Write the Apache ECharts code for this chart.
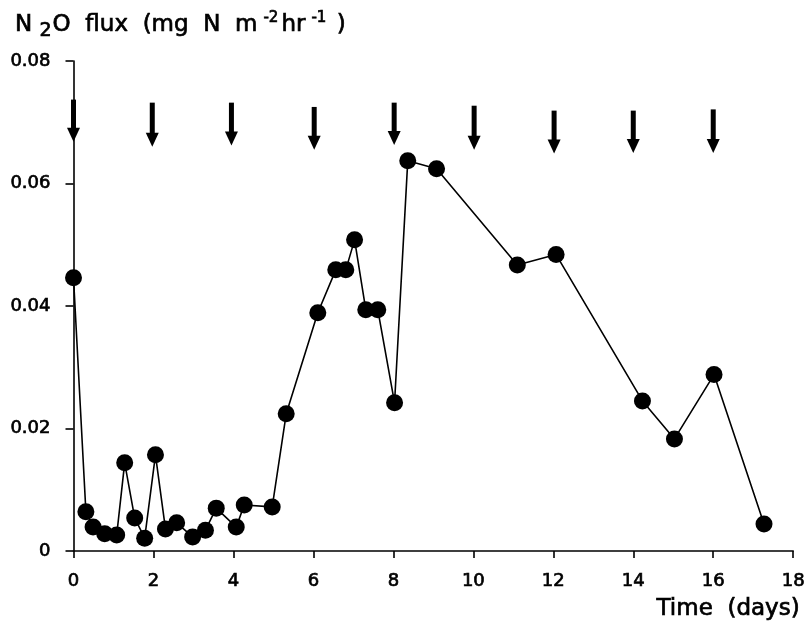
<!DOCTYPE html>
<html>
<head>
<meta charset="utf-8">
<script src="https://cdn.jsdelivr.net/npm/echarts@6/dist/echarts.min.js"></script>
<style>
  html, body { margin: 0; padding: 0; background: #fff; }
  #chart { width: 808px; height: 638px; }
</style>
</head>
<body>
<div id="chart"></div>
<script>
// Sampling time (days) and measured N2O flux (mg N m^-2 hr^-1)
var days = [0.0, 0.31, 0.49, 0.78, 1.08, 1.28, 1.53, 1.78, 2.05, 2.30, 2.58, 2.98, 3.30, 3.57,
            4.07, 4.27, 4.97, 5.32, 6.11, 6.56, 6.81, 7.03, 7.31, 7.61, 8.03, 8.36, 9.08,
            11.10, 12.07, 14.23, 15.03, 16.02, 17.27];
var flux = [0.0446, 0.0064, 0.0039, 0.0028, 0.0026, 0.0144, 0.0054, 0.0021, 0.0157, 0.0036, 0.0046,
            0.0023, 0.0034, 0.0070, 0.0039, 0.0075, 0.0072, 0.0224, 0.0389, 0.0459, 0.0459,
            0.0508, 0.0394, 0.0394, 0.0242, 0.0637, 0.0624, 0.0467, 0.0484, 0.0245, 0.0183,
            0.0288, 0.0044];

// Application events, shown as downward arrows (day, arrow top, arrow tip)
var eventDays = [0.0, 1.97, 3.95, 6.02, 8.02, 10.02, 12.02, 14.0, 16.0];
var eventTop  = [0.0737, 0.0732, 0.0732, 0.0725, 0.0732, 0.0727, 0.0719, 0.0719, 0.0721];
var eventTip  = [0.0668, 0.0660, 0.0662, 0.0655, 0.0663, 0.0655, 0.0649, 0.0650, 0.0650];

// Axis ticks
var xTicks = [0, 2, 4, 6, 8, 10, 12, 14, 16, 18];
var yTicks = [0, 0.02, 0.04, 0.06, 0.08];

var FONT = 'DejaVu Sans';
// a thin outline in the text colour gives the lettering a medium weight
var INK = { color: '#000', textBorderColor: '#000', textBorderWidth: 0.7 };

var points = days.map(function (d, i) { return [d, flux[i]]; });
var arrows = eventDays.map(function (d, i) { return [d, eventTop[i], eventTip[i]]; });

function txt(extra) { return Object.assign({ fontFamily: FONT, fontWeight: 'normal' }, INK, extra); }

var chart = echarts.init(document.getElementById('chart'), null, { renderer: 'canvas' });

chart.setOption({
  animation: false,
  backgroundColor: '#ffffff',
  title: {
    left: 10,
    top: 3,
    text: '{a|N }{sub|2}{a|O  flux  (mg  N  m}{sup|-2}{a|hr}{sup|-1}{a| )}',
    textStyle: {
      fontWeight: 'normal',
      rich: {
        a:   txt({ fontSize: 23, lineHeight: 34 }),
        sub: txt({ fontSize: 19, lineHeight: 34, padding: [12, 1, 0, 0] }),
        sup: txt({ fontSize: 15, lineHeight: 34, padding: [0, 3, 13, 6] })
      }
    }
  },
  graphic: [{
    type: 'text',
    right: 8,
    top: 597,
    style: { text: 'Time  (days)', font: '23px "DejaVu Sans"', fill: '#000', stroke: '#000', lineWidth: 0.7 }
  }],
  grid: { left: 73.5, right: 12, top: 61, bottom: 87, containLabel: false },
  xAxis: {
    type: 'value',
    min: xTicks[0],
    max: xTicks[xTicks.length - 1],
    interval: xTicks[1] - xTicks[0],
    axisLine: { show: true, onZero: false, lineStyle: { color: '#000', width: 1.6 } },
    axisTick: { show: true, inside: false, length: 7, lineStyle: { color: '#000', width: 1.6 } },
    axisLabel: txt({ margin: 21, fontSize: 18 }),
    splitLine: { show: false }
  },
  yAxis: {
    type: 'value',
    min: yTicks[0],
    max: yTicks[yTicks.length - 1],
    interval: yTicks[1] - yTicks[0],
    axisLine: { show: true, onZero: false, lineStyle: { color: '#000', width: 1.6 } },
    axisTick: { show: true, inside: false, length: 8, lineStyle: { color: '#000', width: 1.6 } },
    axisLabel: txt({
      margin: 23, fontSize: 18, padding: [6, 0, 0, 0],
      formatter: function (v) { return v === 0 ? '0' : v.toFixed(2); }
    }),
    splitLine: { show: false }
  },
  series: [
    {
      type: 'line',
      data: points,
      symbol: 'circle',
      symbolSize: 17,
      itemStyle: { color: '#000' },
      lineStyle: { color: '#000', width: 1.6 },
      z: 3
    },
    {
      type: 'custom',
      data: arrows,
      z: 4,
      renderItem: function (params, api) {
        var top = api.coord([api.value(0), api.value(1)]);
        var tip = api.coord([api.value(0), api.value(2)]);
        var headH = 14, headW = 13, shaftW = 5;
        var x = top[0];
        return {
          type: 'group',
          children: [
            {
              type: 'rect',
              shape: { x: x - shaftW / 2, y: top[1], width: shaftW, height: tip[1] - headH - top[1] + 1 },
              style: { fill: '#000' }
            },
            {
              type: 'polygon',
              shape: { points: [[x - headW / 2, tip[1] - headH], [x + headW / 2, tip[1] - headH], [x, tip[1]]] },
              style: { fill: '#000' }
            }
          ]
        };
      }
    }
  ]
});
</script>
</body>
</html>
